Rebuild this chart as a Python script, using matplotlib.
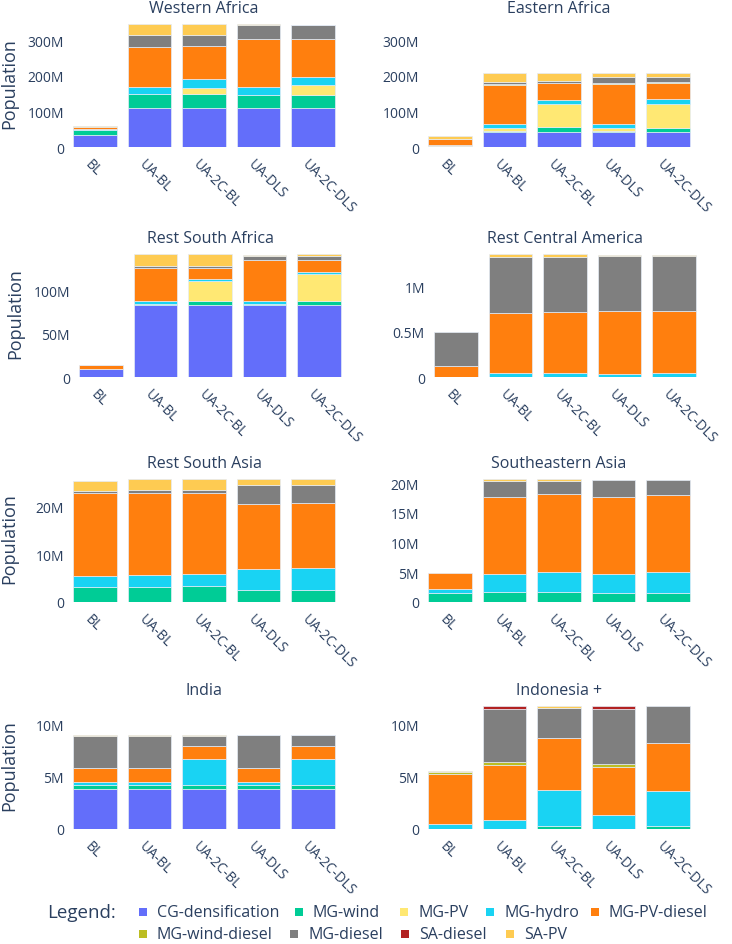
import numpy as np
import matplotlib
matplotlib.use('Agg')
import matplotlib.pyplot as plt
import matplotlib.transforms as mtransforms
from matplotlib.patches import Rectangle
from matplotlib.ticker import MultipleLocator, FuncFormatter

plt.rcParams['font.family'] = ['Open Sans', 'DejaVu Sans']

W, H = 732, 945
TEXT = '#2a3f5f'

scenarios = ['BL', 'UA-BL', 'UA-2C-BL', 'UA-DLS', 'UA-2C-DLS']
techs = ['CG-densification', 'MG-wind', 'MG-PV', 'MG-hydro', 'MG-PV-diesel',
         'MG-wind-diesel', 'MG-diesel', 'SA-diesel', 'SA-PV']
colors = ['#636EFA', '#00CC96', '#FFE873', '#19D3F3', '#FF7F0E',
          '#BCBD22', '#7F7F7F', '#B22222', '#FECB52']

# population in millions, rows follow techs, columns follow scenarios
western_africa = [
    [35, 110, 110, 110, 110],
    [14, 40, 40, 36, 36],
    [0, 0, 16, 0, 27],
    [2, 19, 24, 23, 24],
    [5, 112, 93, 133, 105],
    [0, 0, 0, 0, 0],
    [0, 33, 31, 41, 40],
    [0, 0, 0, 0, 0],
    [3, 31, 31, 1, 1],
]
eastern_africa = [
    [3, 43, 43, 43, 43],
    [0, 3, 13, 3, 9],
    [2, 6, 64, 6, 69],
    [2, 12, 11, 13, 15],
    [15, 109, 49, 111, 44],
    [0, 5, 1, 3, 2],
    [0, 4, 4, 17, 15],
    [0, 0, 0, 0, 0],
    [10, 26, 23, 12, 11],
]
rest_south_africa = [
    [9.5, 83.5, 83.5, 83.5, 83.5],
    [0, 1.5, 4.5, 1.5, 5],
    [0, 0, 23, 0, 30.5],
    [0.3, 2.7, 2.5, 3, 2.5],
    [4, 38.5, 12.5, 47, 14],
    [0, 0, 0, 0, 0],
    [0, 2.5, 2.5, 4.6, 4.6],
    [0, 0, 0, 0, 0],
    [0.2, 13.5, 13.5, 2, 2],
]
rest_central_america = [
    [0, 0, 0, 0, 0],
    [0, 0, 0, 0, 0],
    [0, 0, 0, 0, 0],
    [0, 0.04, 0.04, 0.035, 0.04],
    [0.124, 0.664, 0.672, 0.688, 0.686],
    [0, 0, 0, 0, 0],
    [0.376, 0.614, 0.606, 0.613, 0.61],
    [0, 0, 0, 0, 0],
    [0, 0.032, 0.032, 0.004, 0.004],
]
rest_south_asia = [
    [0, 0, 0, 0, 0],
    [3.06, 3.06, 3.26, 2.43, 2.5],
    [0, 0, 0, 0, 0],
    [2.34, 2.64, 2.64, 4.47, 4.7],
    [17.4, 17.15, 16.95, 13.65, 13.6],
    [0, 0, 0, 0, 0],
    [0.35, 0.65, 0.55, 3.85, 3.6],
    [0, 0, 0, 0, 0],
    [2.2, 2.2, 2.3, 1.3, 1.3],
]
southeastern_asia = [
    [0, 0, 0, 0, 0],
    [1.56, 1.68, 1.68, 1.56, 1.56],
    [0, 0, 0, 0, 0],
    [0.67, 2.96, 3.4, 3.14, 3.44],
    [2.67, 13.01, 13.02, 12.95, 12.98],
    [0, 0, 0, 0, 0],
    [0, 2.65, 2.2, 2.9, 2.57],
    [0, 0, 0, 0, 0],
    [0, 0.35, 0.35, 0, 0],
]
india = [
    [3.87, 3.87, 3.87, 3.87, 3.87],
    [0.35, 0.35, 0.35, 0.35, 0.35],
    [0, 0, 0, 0, 0],
    [0.28, 0.28, 2.46, 0.28, 2.52],
    [1.35, 1.35, 1.28, 1.35, 1.25],
    [0, 0, 0, 0, 0],
    [3.03, 3.03, 0.92, 3.13, 0.99],
    [0, 0, 0, 0, 0],
    [0.16, 0.16, 0.16, 0.04, 0.04],
]
indonesia = [
    [0, 0, 0, 0, 0],
    [0, 0, 0.26, 0, 0.26],
    [0, 0, 0, 0, 0],
    [0.51, 0.9, 3.48, 1.37, 3.38],
    [4.73, 5.27, 4.95, 4.6, 4.6],
    [0.22, 0.25, 0, 0.29, 0],
    [0, 5.05, 2.91, 5.27, 3.52],
    [0, 0.29, 0, 0.23, 0],
    [0.05, 0, 0.16, 0, 0],
]

regions = ['Western Africa', 'Eastern Africa', 'Rest South Africa', 'Rest Central America',
           'Rest South Asia', 'Southeastern Asia', 'India', 'Indonesia +']
region_data = [western_africa, eastern_africa, rest_south_africa, rest_central_america,
               rest_south_asia, southeastern_asia, india, indonesia]

# axis extents (millions) and tick step per panel
y_max = [362, 362, 149.3, 1.42, 27, 21.7, 12.35, 12.35]
y_step = [100, 100, 50, 0.5, 10, 5, 5, 5]

# panel placement in pixels: (left, top, right, bottom)
rows_px = [(19, 148), (249, 378), (474, 603), (701, 830)]
cols_px = [(68, 340), (423, 695)]
row_shift = [0, 6, 0, 0]


def px_rect(x0, y0, x1, y1):
    return [x0 / W, 1 - y1 / H, (x1 - x0) / W, (y1 - y0) / H]


def si_fmt(v, pos):
    if abs(v) < 1e-9:
        return '0'
    return f'{v / 1e6:g}M'


fig = plt.figure(figsize=(W / 100, H / 100), dpi=100)
x = np.arange(len(scenarios))

for i, (name, vals) in enumerate(zip(regions, region_data)):
    row, col = divmod(i, 2)
    top, bot = rows_px[row]
    left, right = cols_px[col]
    left += row_shift[row]
    right += row_shift[row]
    ax = fig.add_axes(px_rect(left, top, right, bot))

    bottom = np.zeros(len(scenarios))
    for tech, color, v in zip(techs, colors, vals):
        v = np.array(v, dtype=float) * 1e6
        m = v > 0
        ax.bar(x[m], v[m], 0.8, bottom=bottom[m], color=color,
               edgecolor='#E5ECF6', linewidth=0.5)
        bottom += v

    ax.set_xlim(-0.5, 4.5)
    ax.set_ylim(0, y_max[i] * 1e6)
    ax.yaxis.set_major_locator(MultipleLocator(y_step[i] * 1e6))
    ax.yaxis.set_major_formatter(FuncFormatter(si_fmt))
    ax.set_xticks(x)
    ax.set_xticklabels(scenarios, rotation=-45, ha='left', va='top',
                       rotation_mode='anchor')
    ax.tick_params(axis='both', length=0, labelsize=10, colors=TEXT)
    ax.tick_params(axis='x', pad=6.5)
    ax.tick_params(axis='y', pad=3)
    offset = mtransforms.ScaledTranslation(-3 / 100, 0, fig.dpi_scale_trans)
    for lab in ax.get_xticklabels():
        lab.set_transform(lab.get_transform() + offset)
    for s in ax.spines.values():
        s.set_visible(False)

    ax.text(0.5, 1 + 10 / (bot - top), name, transform=ax.transAxes,
            ha='center', va='center', fontsize=11.5, color=TEXT)
    if col == 0:
        fig.text((9 + row_shift[row]) / W, 1 - (top + bot) / 2 / H, 'Population',
                 rotation=90, ha='center', va='center', fontsize=13, color=TEXT)

# legend drawn by hand to follow the horizontal flow of the original
fig.text(47 / W, 1 - 913 / H, 'Legend:', ha='left', va='center',
         fontsize=13.5, color=TEXT)
legend_pos = [(143, 913), (299, 913), (404, 913), (490, 913), (595, 913),
              (143, 935), (294, 935), (405, 935), (510, 935)]
for tech, color, (mx, my) in zip(techs, colors, legend_pos):
    fig.add_artist(Rectangle(((mx - 4) / W, 1 - (my + 4) / H), 8 / W, 8 / H,
                             transform=fig.transFigure, facecolor=color,
                             edgecolor='none'))
    fig.text((mx + 14) / W, 1 - my / H, tech, ha='left', va='center',
             fontsize=11.5, color=TEXT)

fig.savefig('out.png', dpi=100, facecolor='white')
